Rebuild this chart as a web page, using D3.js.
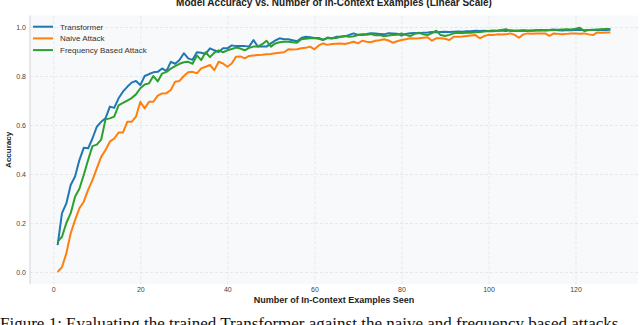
<!DOCTYPE html>
<html><head><meta charset="utf-8">
<script src="https://cdn.jsdelivr.net/npm/d3@7"></script>
<style>body{margin:0;background:#fff}svg{display:block}</style>
</head><body><svg id="c" width="640" height="325"></svg>
<script>
const examplesSeen = d3.range(1, 129);
const transformer = [
0.11,0.24,0.28,0.355,0.39,0.457,0.507,0.505,0.545,0.593,
0.613,0.627,0.675,0.67,0.709,0.736,0.756,0.773,0.78,0.763,
0.80,0.808,0.815,0.817,0.831,0.82,0.858,0.85,0.865,0.893,
0.872,0.866,0.897,0.895,0.89,0.913,0.905,0.898,0.913,0.913,
0.925,0.922,0.923,0.922,0.92,0.947,0.92,0.92,0.92,0.933,
0.945,0.954,0.95,0.95,0.946,0.942,0.955,0.96,0.958,0.955,
0.955,0.948,0.955,0.953,0.96,0.96,0.962,0.968,0.974,0.968,
0.97,0.972,0.975,0.974,0.972,0.97,0.975,0.974,0.973,0.965,
0.972,0.975,0.976,0.975,0.977,0.978,0.98,0.979,0.98,0.981,
0.98,0.981,0.982,0.981,0.983,0.983,0.985,0.984,0.985,0.984,
0.986,0.985,0.986,0.984,0.987,0.985,0.986,0.987,0.986,0.985,
0.987,0.988,0.986,0.988,0.99,0.987,0.986,0.988,0.987,0.988,
0.989,0.987,0.988,0.989,0.988,0.989,0.988,0.989];
const naiveAttack = [
0.0,0.02,0.076,0.158,0.212,0.26,0.287,0.335,0.375,0.423,
0.47,0.498,0.532,0.545,0.569,0.569,0.613,0.613,0.634,0.695,
0.668,0.695,0.695,0.72,0.729,0.73,0.743,0.777,0.78,0.80,
0.815,0.817,0.811,0.831,0.838,0.845,0.824,0.858,0.851,0.838,
0.851,0.879,0.88,0.872,0.882,0.884,0.886,0.887,0.889,0.89,
0.893,0.895,0.897,0.909,0.908,0.909,0.913,0.915,0.92,0.909,
0.925,0.933,0.927,0.931,0.932,0.933,0.931,0.935,0.94,0.933,
0.944,0.94,0.938,0.944,0.946,0.95,0.945,0.936,0.942,0.947,
0.95,0.954,0.953,0.954,0.956,0.958,0.944,0.954,0.954,0.952,
0.947,0.96,0.96,0.961,0.963,0.965,0.967,0.954,0.963,0.968,
0.967,0.97,0.969,0.97,0.974,0.968,0.956,0.97,0.974,0.973,
0.974,0.974,0.974,0.964,0.974,0.972,0.97,0.972,0.974,0.974,
0.973,0.974,0.97,0.967,0.978,0.977,0.978,0.978];
const frequencyAttack = [
0.124,0.144,0.2,0.24,0.307,0.34,0.396,0.457,0.514,0.52,
0.54,0.623,0.627,0.634,0.68,0.69,0.70,0.71,0.725,0.75,
0.765,0.77,0.80,0.778,0.81,0.817,0.83,0.84,0.85,0.856,
0.858,0.85,0.884,0.865,0.897,0.877,0.895,0.905,0.897,0.905,
0.91,0.916,0.912,0.905,0.915,0.92,0.92,0.93,0.944,0.92,
0.933,0.938,0.94,0.94,0.938,0.936,0.95,0.952,0.954,0.954,
0.952,0.947,0.957,0.954,0.955,0.96,0.963,0.96,0.962,0.967,
0.967,0.968,0.971,0.966,0.967,0.962,0.965,0.967,0.968,0.974,
0.968,0.963,0.972,0.977,0.97,0.967,0.975,0.985,0.967,0.963,
0.968,0.974,0.977,0.976,0.977,0.977,0.979,0.98,0.982,0.984,
0.983,0.985,0.988,0.991,0.984,0.985,0.984,0.985,0.984,0.986,
0.987,0.986,0.988,0.987,0.988,0.989,0.99,0.991,0.99,0.993,
0.997,0.984,0.988,0.988,0.99,0.991,0.992,0.992];
const seriesNames = ["Transformer", "Naive Attack", "Frequency Based Attack"];
const seriesColors = ["#1f77b4", "#ff7f0e", "#2ca02c"];
const xTicks = [0, 20, 40, 60, 80, 100, 120];
const yTicks = [0.0, 0.2, 0.4, 0.6, 0.8, 1.0];
const titleText = "Model Accuracy vs. Number of In-Context Examples (Linear Scale)";
const xLabel = "Number of In-Context Examples Seen";
const yLabel = "Accuracy";
const captionText = "Figure 1: Evaluating the trained Transformer against the naive and frequency based attacks";

const svg = d3.select("#c");
const L = 30, R = 638, T = 15.5, B = 284.25;
const x = d3.scaleLinear().domain([-5.35, 134.35]).range([L, R]);
const y = d3.scaleLinear().domain([-0.05, 1.047]).range([B, T]);
const font = "'Liberation Sans', Arial, sans-serif";

svg.append("rect").attr("x", L).attr("y", T).attr("width", R - L).attr("height", B - T).attr("fill", "#f8f9fb");

const gx = svg.append("g").attr("transform", `translate(0,${B})`)
  .call(d3.axisBottom(x).tickValues(xTicks).tickFormat(d3.format("d")).tickSize(-(B - T)).tickPadding(3));
const gy = svg.append("g").attr("transform", `translate(${L},0)`)
  .call(d3.axisLeft(y).tickValues(yTicks).tickFormat(d3.format(".1f")).tickSize(-(R - L)).tickPadding(4));
[gx, gy].forEach(g => {
  g.select(".domain").remove();
  g.selectAll(".tick line").attr("stroke", "#e1e4e8").attr("stroke-dasharray", "3,2").attr("stroke-width", 0.8);
  g.selectAll(".tick text").attr("fill", "#444").style("font-family", font).style("font-size", "7px");
});
svg.append("line").attr("x1", L).attr("x2", L).attr("y1", T).attr("y2", B).attr("stroke", "#d0d3d8").attr("stroke-width", 1);

const series = [transformer, naiveAttack, frequencyAttack];
const line = d3.line().x((d, i) => x(examplesSeen[i])).y(d => y(d));
series.forEach((s, k) => {
  svg.append("path").datum(s).attr("d", line).attr("fill", "none")
    .attr("stroke", seriesColors[k]).attr("stroke-width", 2).attr("stroke-linejoin", "round");
});

const leg = svg.append("g");
seriesNames.forEach((n, k) => {
  const yy = 26.7 + k * 11.7;
  leg.append("line").attr("x1", 33).attr("x2", 53).attr("y1", yy).attr("y2", yy).attr("stroke", seriesColors[k]).attr("stroke-width", 2);
  leg.append("text").attr("x", 60).attr("y", yy).attr("dy", "0.35em").text(n)
    .style("font-family", font).style("font-size", "8px").attr("fill", "#333");
});

svg.append("text").attr("x", (L + R) / 2).attr("y", 6).attr("text-anchor", "middle").text(titleText)
  .style("font-family", font).style("font-size", "10px").style("font-weight", "bold").attr("fill", "#222");
svg.append("text").attr("x", (L + R) / 2).attr("y", 303).attr("text-anchor", "middle").text(xLabel)
  .style("font-family", font).style("font-size", "9px").style("font-weight", "bold").attr("fill", "#222");
svg.append("text").attr("transform", `translate(11,${(T + B) / 2}) rotate(-90)`).attr("text-anchor", "middle").text(yLabel)
  .style("font-family", font).style("font-size", "8px").style("font-weight", "bold").attr("fill", "#222");
svg.append("text").attr("x", 0).attr("y", 329).text(captionText)
  .style("font-family", "'Liberation Serif', 'Times New Roman', serif").style("font-size", "17px").attr("fill", "#111");
</script></body></html>
